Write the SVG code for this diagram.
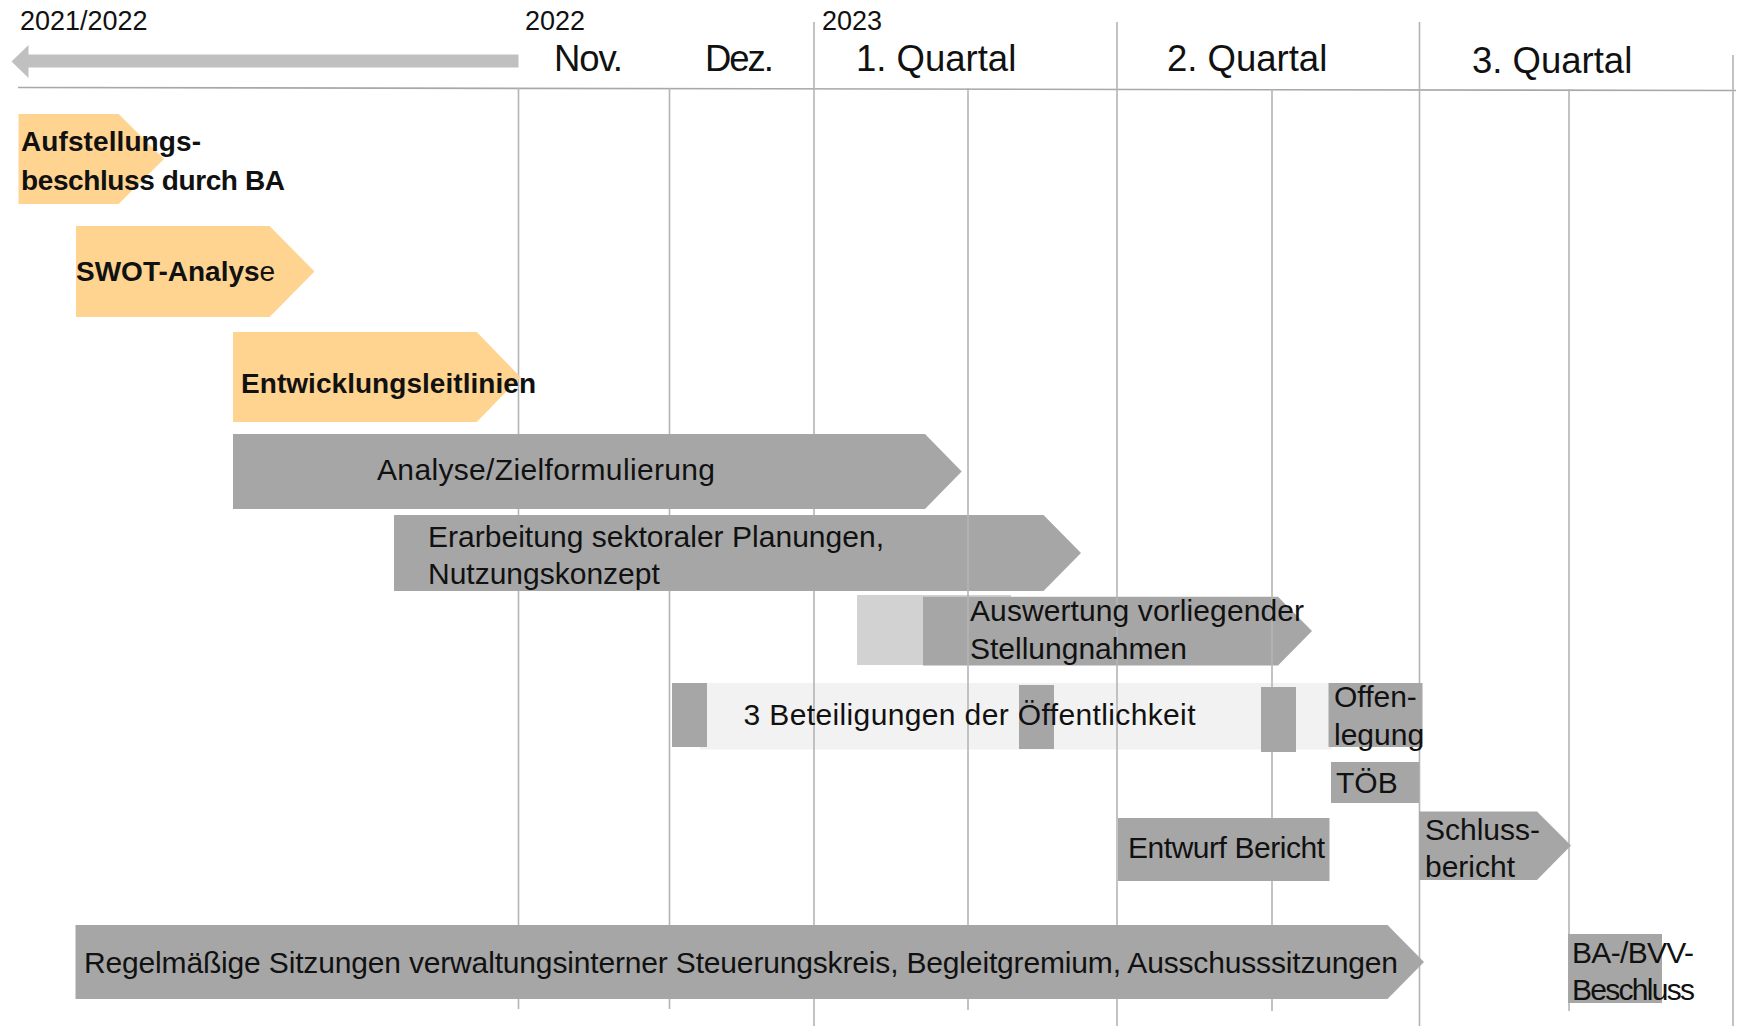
<svg xmlns="http://www.w3.org/2000/svg" width="1737" height="1026" viewBox="0 0 1737 1026">
<style>
text{font-family:"Liberation Sans",Arial,sans-serif;fill:#111}
.yr{font-size:27px}
.hd{font-size:36.5px}
.b{font-size:28px;font-weight:bold}
.r{font-size:30px}
.or{fill:#ffd491}
.gr{fill:#a6a6a6}
.lt{fill:#d2d2d2}
.bd{fill:#f2f2f2}
.gl{stroke:#b4b4b4;stroke-width:1.6;fill:none}
</style>
<rect width="1737" height="1026" fill="#fff"/>

<g id="header">
<polygon points="11.5,61.5 28.5,45 28.5,54.5 518.5,54.5 518.5,67.5 28.5,67.5 28.5,78" fill="#c0c0c0"/>
<line x1="18" y1="87.5" x2="1736" y2="90.5" stroke="#a8a8a8" stroke-width="1.6"/>
<text class="yr" x="20" y="30">2021/2022</text>
<text class="yr" x="525" y="30">2022</text>
<text class="yr" x="822" y="30">2023</text>
<text class="hd" x="554" y="71" textLength="69">Nov.</text>
<text class="hd" x="705" y="71" textLength="69">Dez.</text>
<text class="hd" x="856" y="71">1. Quartal</text>
<text class="hd" x="1167" y="71">2. Quartal</text>
<text class="hd" x="1472" y="73">3. Quartal</text>
</g>

<g id="beteiligung">
<rect class="bd" x="700" y="683" width="632" height="66.5"/>
</g>

<g id="auswertung-bg">
<rect class="lt" x="857" y="595" width="154" height="70"/>
<path class="gr" d="M923,596.7 H1278 L1312,631 L1278,665.5 H923 Z"/>
</g>

<g id="grid">
<line class="gl" x1="518.5" y1="88" x2="518.5" y2="1009"/>
<line class="gl" x1="669.5" y1="88" x2="669.5" y2="1009"/>
<line class="gl" x1="814" y1="22" x2="814" y2="1026"/>
<line class="gl" x1="968" y1="88" x2="968" y2="1010"/>
<line class="gl" x1="1117" y1="22" x2="1117" y2="1026"/>
<line class="gl" x1="1272" y1="89" x2="1272" y2="1011"/>
<line class="gl" x1="1419.5" y1="22" x2="1419.5" y2="1026"/>
<line class="gl" x1="1569" y1="89" x2="1569" y2="1011"/>
<line class="gl" x1="1733" y1="55" x2="1733" y2="1026"/>
</g>

<g id="aufstellungsbeschluss">
<path class="or" d="M18.5,114 H118.6 L164,159 L118.6,204 H18.5 Z"/>
<text class="b" x="21" y="151" textLength="180">Aufstellungs-</text>
<text class="b" x="21" y="190" textLength="264">beschluss durch BA</text>
</g>

<g id="swot">
<path class="or" d="M76,226 H269.6 L314.5,271.5 L269.6,317 H76 Z"/>
<text class="b" x="76" y="281">SWOT-Analys<tspan font-weight="normal">e</tspan></text>
</g>

<g id="entwicklungsleitlinien">
<path class="or" d="M233,332 H476.8 L520.5,377 L476.8,422 H233 Z"/>
<text class="b" x="241" y="393" textLength="295">Entwicklungsleitlinien</text>
</g>

<g id="analyse">
<path class="gr" d="M233,434 H925 L961.7,471.5 L925,509 H233 Z"/>
<text class="r" x="377" y="480" textLength="338">Analyse/Zielformulierung</text>
</g>

<g id="erarbeitung">
<path class="gr" d="M394,515 H1043.5 L1081,553 L1043.5,591 H394 Z"/>
<line class="gl" x1="968" y1="515" x2="968" y2="591"/>
<text class="r" x="428" y="547" textLength="456">Erarbeitung sektoraler Planungen,</text>
<text class="r" x="428" y="584">Nutzungskonzept</text>
</g>

<g id="auswertung">
<text class="r" x="970" y="621" textLength="334">Auswertung vorliegender</text>
<text class="r" x="970" y="659">Stellungnahmen</text>
</g>

<g id="beteiligung-termine">
<rect class="gr" x="672" y="683" width="35" height="64"/>
<rect class="gr" x="1019" y="685" width="35" height="64"/>
<rect class="gr" x="1261" y="687" width="35" height="65"/>
<text class="r" x="743.5" y="725" textLength="452">3 Beteiligungen der Öffentlichkeit</text>
</g>

<g id="offenlegung">
<rect class="gr" x="1328.5" y="683" width="94" height="64"/>
<text class="r" x="1334" y="707">Offen-</text>
<text class="r" x="1334" y="745">legung</text>
</g>

<g id="toeb">
<rect class="gr" x="1331" y="762" width="88" height="41"/>
<text class="r" x="1336" y="793">TÖB</text>
</g>

<g id="entwurf">
<rect class="gr" x="1118" y="818" width="211.5" height="63"/>
<text class="r" x="1128" y="858" textLength="197">Entwurf Bericht</text>
</g>

<g id="schlussbericht">
<path class="gr" d="M1419,811.5 H1537 L1571,845.5 L1537,880 H1419 Z"/>
<text class="r" x="1425" y="840">Schluss-</text>
<text class="r" x="1425" y="877">bericht</text>
</g>

<g id="sitzungen">
<path class="gr" d="M75.5,925 H1387.5 L1424,962 L1387.5,999 H75.5 Z"/>
<text class="r" x="84" y="972.5" textLength="1314">Regelmäßige Sitzungen verwaltungsinterner Steuerungskreis, Begleitgremium, Ausschusssitzungen</text>
</g>

<g id="beschluss">
<rect class="gr" x="1568" y="934" width="94" height="69"/>
<text class="r" x="1572" y="963" textLength="122">BA-/BVV-</text>
<text class="r" x="1572" y="1000" textLength="123">Beschluss</text>
</g>
</svg>
